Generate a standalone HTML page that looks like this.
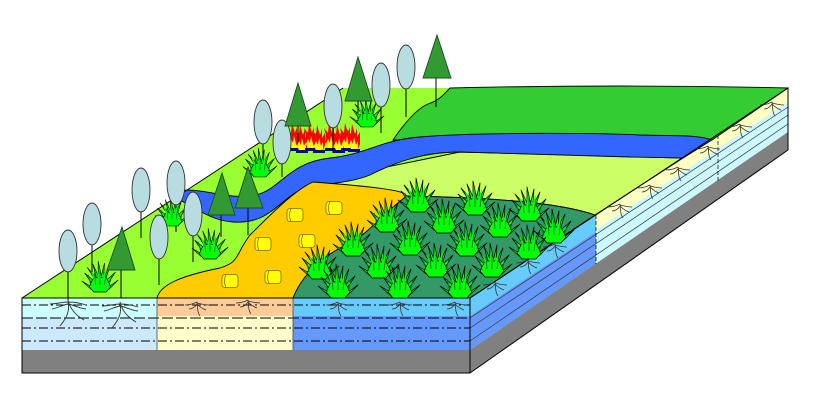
<!DOCTYPE html>
<html><head><meta charset="utf-8"><style>html,body{margin:0;padding:0;background:#fff}svg{display:block}</style></head>
<body>
<svg width="831" height="415" viewBox="0 0 831 415" xmlns="http://www.w3.org/2000/svg">
<defs>
<g id="tuft" stroke="#000" stroke-width="0.7" stroke-linejoin="round">
<polygon fill="#0f0" points="-7,-16 -14,-27 -4,-16"/>
<polygon fill="#0f0" points="-4,-16 -8,-31 -1,-16"/>
<polygon fill="#0f0" points="-2,-16 -2,-34 2,-16"/>
<polygon fill="#0f0" points="1,-16 5,-32 4,-16"/>
<polygon fill="#0f0" points="4,-16 11,-29 7,-16"/>
<polygon fill="#0f0" points="6,-12 17,-22 8,-8"/>
<polygon fill="#0f0" points="-6,-12 -17,-21 -8,-8"/>
<polygon fill="#0f0" points="-10,-6 -20,-12 -10,-3"/>
<polygon fill="#0f0" points="10,-6 20,-13 10,-3"/>
<polygon fill="#0f0" points="-12,-6 -7,-16 7,-16 12,-6 7,0 -7,0"/>
<polygon fill="#0f0" stroke="none" points="-6,-10 -10,-24 -3,-13 -1,-28 2,-13 7,-27 5,-10"/>
<path d="M-10,-7 L-13,-19 M-5,-8 L-6,-22 M0,-8 L0,-24 M5,-8 L7,-22 M10,-7 L13,-18" fill="none" stroke="#063" stroke-width="0.8"/>
</g>
<g id="bale">
<rect x="-8" y="-6.5" width="16" height="13" rx="3" fill="#ff0" stroke="#7a6a00" stroke-width="0.8"/>
<path d="M-4,-6.5 Q-7,0 -4,6.5" fill="none" stroke="#7a6a00" stroke-width="0.8"/>
</g>
<g id="flame">
<path d="M0,0 L-4,-8 L-3,-15 L-5,-22 L-1,-17 L0,-27 L3,-17 L5,-23 L5,-14 L8,-19 L8,-7 L5,0 Z" fill="#f00"/>
<path d="M0,0 L-3,-6 L-1,-11 L1,-7 L2,-14 L4,-6 L6,-10 L6,-3 L4,0 Z" fill="#ff0"/>
<rect x="-4" y="-2" width="12" height="3" fill="#0000b0"/>
</g>
<g id="root" fill="none" stroke="#333" stroke-width="0.9">
<path d="M0,0 C1,8 2,14 -8,26 M0,0 C2,8 6,14 16,20 M0,2 C-6,2 -12,4 -18,4 M0,2 C6,2 12,3 18,5 M0,4 C-6,5 -10,8 -16,9 M0,4 C6,5 10,8 18,9"/>
</g>
<g id="sroot" fill="none" stroke="#333" stroke-width="0.8">
<path d="M0,0 C1,6 0,10 3,14 M0,0 C-4,2 -7,3 -12,3 M0,1 C4,2 8,3 12,3 M0,2 C-2,5 -5,7 -8,7 M0,2 C3,5 6,7 9,8"/>
</g>
</defs>

<!-- front face -->
<rect x="22" y="298" width="135" height="20" fill="#ccffff"/>
<rect x="22" y="318" width="135" height="32" fill="#cce9ff"/>
<rect x="157" y="298" width="136" height="18" fill="#ffcc99"/>
<rect x="157" y="316" width="136" height="34" fill="#ffffcc"/>
<rect x="293" y="298" width="177" height="18" fill="#66ccff"/>
<rect x="293" y="316" width="177" height="34" fill="#6699ff"/>
<rect x="22" y="350" width="448" height="23" fill="#808080"/>
<g stroke="#000" stroke-width="1.1" fill="none">
<line x1="22" y1="305" x2="470" y2="305" stroke-dasharray="9,3,2,3"/>
<line x1="22" y1="318" x2="470" y2="318" stroke-dasharray="11,3"/>
<line x1="22" y1="328" x2="470" y2="328" stroke-dasharray="9,3,2,3"/>
<line x1="22" y1="341" x2="470" y2="341" stroke-dasharray="9,3,2,3"/>
</g>
<line x1="157" y1="298" x2="157" y2="350" stroke="#444" stroke-width="0.8"/>
<line x1="293" y1="298" x2="293" y2="350" stroke="#444" stroke-width="0.8"/>

<!-- side face -->
<polygon points="470,298 596,215 596,264 470,350" fill="#6699ff"/>
<polygon points="470,298 596,215 596,232 470,316" fill="#66ccff"/>
<polygon points="596,215 788,88 788,132 596,264" fill="#ccf8ff"/>
<polygon points="596,215 788,88 788,102 596,230" fill="#ffffc4"/>
<polygon points="470,350 788,132 788,150 470,373" fill="#808080"/>
<g stroke="#333" stroke-width="0.7" fill="none">
<line x1="470" y1="318" x2="788" y2="107"/>
<line x1="470" y1="328" x2="788" y2="115"/>
<line x1="470" y1="341" x2="788" y2="124"/>
<line x1="596" y1="215" x2="596" y2="264" stroke-dasharray="4,2" stroke="#000"/>
<line x1="718" y1="135" x2="718" y2="183" stroke-dasharray="4,2" stroke="#000"/>
</g>

<!-- top surface base -->
<polygon points="22,298 343,88 788,88 470,298" fill="#99ff33"/>
<path d="M450,88 Q620,84 788,88 L712,140 L393,140 C405,122 418,108 428,104 C440,100 444,94 450,88 Z" fill="#33cc33" stroke="#000" stroke-width="0.9"/>
<path d="M313,182 L460,152 L683,158 L595,215 C560,203 500,198 407,196 Z" fill="#ccff66" stroke="#000" stroke-width="0.9"/>
<path d="M172,192 C200,184 232,204 262,193 C282,185 292,162 330,158 C368,154 380,140 420,137 C480,132 600,133 640,135 C680,136 700,135 712,140 L683,158 C670,158 650,157 630,157 L460,152 C420,152 392,164 370,175 C340,187 312,181 292,195 C272,210 262,224 233,222 C220,221 210,217 198,210 C185,203 175,198 172,192 Z" fill="#3366ff" stroke="#000" stroke-width="0.9"/>
<path d="M313,182 C420,190 400,194 407,196 C380,215 370,235 340,248 C315,262 300,280 293,298 L157,298 C160,285 180,276 220,268 C240,262 235,255 250,235 C270,215 295,190 313,182 Z" fill="#ffcc00" stroke="#000" stroke-width="0.9"/>
<path d="M407,196 C500,198 560,203 595,215 L470,298 L293,298 C300,280 315,262 340,248 C370,235 380,215 407,196 Z" fill="#339966" stroke="#000" stroke-width="0.9"/>
<polyline points="22,298 343,88" fill="none" stroke="#000" stroke-width="1"/>
<polyline points="788,88 470,298" fill="none" stroke="#000" stroke-width="1"/>
<rect x="22" y="298" width="448" height="75" fill="none" stroke="#000" stroke-width="1"/>
<line x1="470" y1="373" x2="788" y2="150" stroke="#000" stroke-width="1"/>
<line x1="788" y1="88" x2="788" y2="150" stroke="#000" stroke-width="1"/>

<!-- hay bales -->
<use href="#bale" x="230" y="281"/><use href="#bale" x="273" y="277"/>
<use href="#bale" x="263" y="244"/><use href="#bale" x="307" y="241"/>
<use href="#bale" x="295" y="215"/><use href="#bale" x="334" y="208"/>

<!-- fire -->
<g>
<use href="#flame" x="292" y="150"/><use href="#flame" x="300" y="152"/><use href="#flame" x="309" y="150"/><use href="#flame" x="317" y="152"/>
<use href="#flame" x="329" y="150"/><use href="#flame" x="337" y="152"/><use href="#flame" x="345" y="150"/><use href="#flame" x="352" y="151"/>
</g>

<!-- roots -->
<use href="#root" x="68" y="300"/><use href="#root" x="120" y="302"/>
<use href="#sroot" x="197" y="302"/><use href="#sroot" x="248" y="300"/>
<use href="#sroot" x="338" y="302"/><use href="#sroot" x="400" y="302"/><use href="#sroot" x="455" y="302"/>
<use href="#sroot" x="495" y="282"/><use href="#sroot" x="528" y="260"/><use href="#sroot" x="555" y="244"/>
<use href="#sroot" x="620" y="204"/><use href="#sroot" x="650" y="185"/><use href="#sroot" x="678" y="167"/><use href="#sroot" x="708" y="146"/><use href="#sroot" x="740" y="124"/><use href="#sroot" x="772" y="102"/>

<!-- trees -->
<g stroke="#000" stroke-width="1">
<line x1="68" y1="251" x2="68" y2="300"/><line x1="92" y1="224" x2="92" y2="273"/>
<line x1="141" y1="190" x2="141" y2="238"/><line x1="176" y1="183" x2="176" y2="232"/>
<line x1="159" y1="237" x2="159" y2="285"/><line x1="193" y1="214" x2="193" y2="262"/>
<line x1="263" y1="122" x2="263" y2="157"/><line x1="282" y1="142" x2="282" y2="177"/>
<line x1="333" y1="106" x2="333" y2="153"/><line x1="381" y1="85" x2="381" y2="133"/>
<line x1="406" y1="67" x2="406" y2="117"/>
<line x1="121" y1="260" x2="121" y2="298"/><line x1="221" y1="200" x2="221" y2="237"/>
<line x1="248" y1="200" x2="248" y2="235"/><line x1="298" y1="120" x2="298" y2="143"/>
<line x1="358" y1="95" x2="358" y2="113"/><line x1="436" y1="70" x2="436" y2="107"/>
</g>
<g transform="translate(100,292) scale(0.9)"><use href="#tuft"/></g>
<g transform="translate(172,226) scale(0.85)"><use href="#tuft"/></g>
<g transform="translate(210,259) scale(0.9)"><use href="#tuft"/></g>
<g transform="translate(260,177) scale(0.85)"><use href="#tuft"/></g>
<g transform="translate(367,127) scale(0.85)"><use href="#tuft"/></g>

<g fill="#b8dde0" stroke="#333" stroke-width="0.9">
<ellipse cx="68" cy="251" rx="9" ry="21"/><ellipse cx="92" cy="224" rx="9" ry="21"/>
<ellipse cx="141" cy="190" rx="9" ry="22"/><ellipse cx="176" cy="183" rx="9" ry="22"/>
<ellipse cx="159" cy="237" rx="9" ry="22"/><ellipse cx="193" cy="214" rx="9" ry="22"/>
<ellipse cx="263" cy="122" rx="9" ry="22"/><ellipse cx="282" cy="142" rx="9" ry="22"/>
<ellipse cx="333" cy="106" rx="9" ry="22"/><ellipse cx="381" cy="85" rx="9" ry="22"/>
<ellipse cx="406" cy="67" rx="9" ry="22"/>
</g>
<g fill="#339933" stroke="#1a4d1a" stroke-width="0.9">
<polygon points="122,227 107,270 135,270"/>
<polygon points="222,173 208,215 235,215"/>
<polygon points="248,167 235,208 263,208"/>
<polygon points="298,83 285,126 311,126"/>
<polygon points="358,57 345,101 372,101"/>
<polygon points="437,35 423,78 451,78"/>
</g>

<g>
<use href="#tuft" x="418" y="212"/><use href="#tuft" x="475" y="215"/><use href="#tuft" x="529" y="221"/>
<use href="#tuft" x="387" y="232"/><use href="#tuft" x="444" y="233"/><use href="#tuft" x="500" y="237"/><use href="#tuft" x="554" y="243"/>
<use href="#tuft" x="353" y="256"/><use href="#tuft" x="410" y="255"/><use href="#tuft" x="467" y="256"/><use href="#tuft" x="529" y="259"/>
<use href="#tuft" x="319" y="279"/><use href="#tuft" x="379" y="278"/><use href="#tuft" x="436" y="277"/><use href="#tuft" x="492" y="277"/>
<use href="#tuft" x="338" y="298"/><use href="#tuft" x="400" y="298"/><use href="#tuft" x="460" y="298"/>
</g>
</svg>
</body></html>
